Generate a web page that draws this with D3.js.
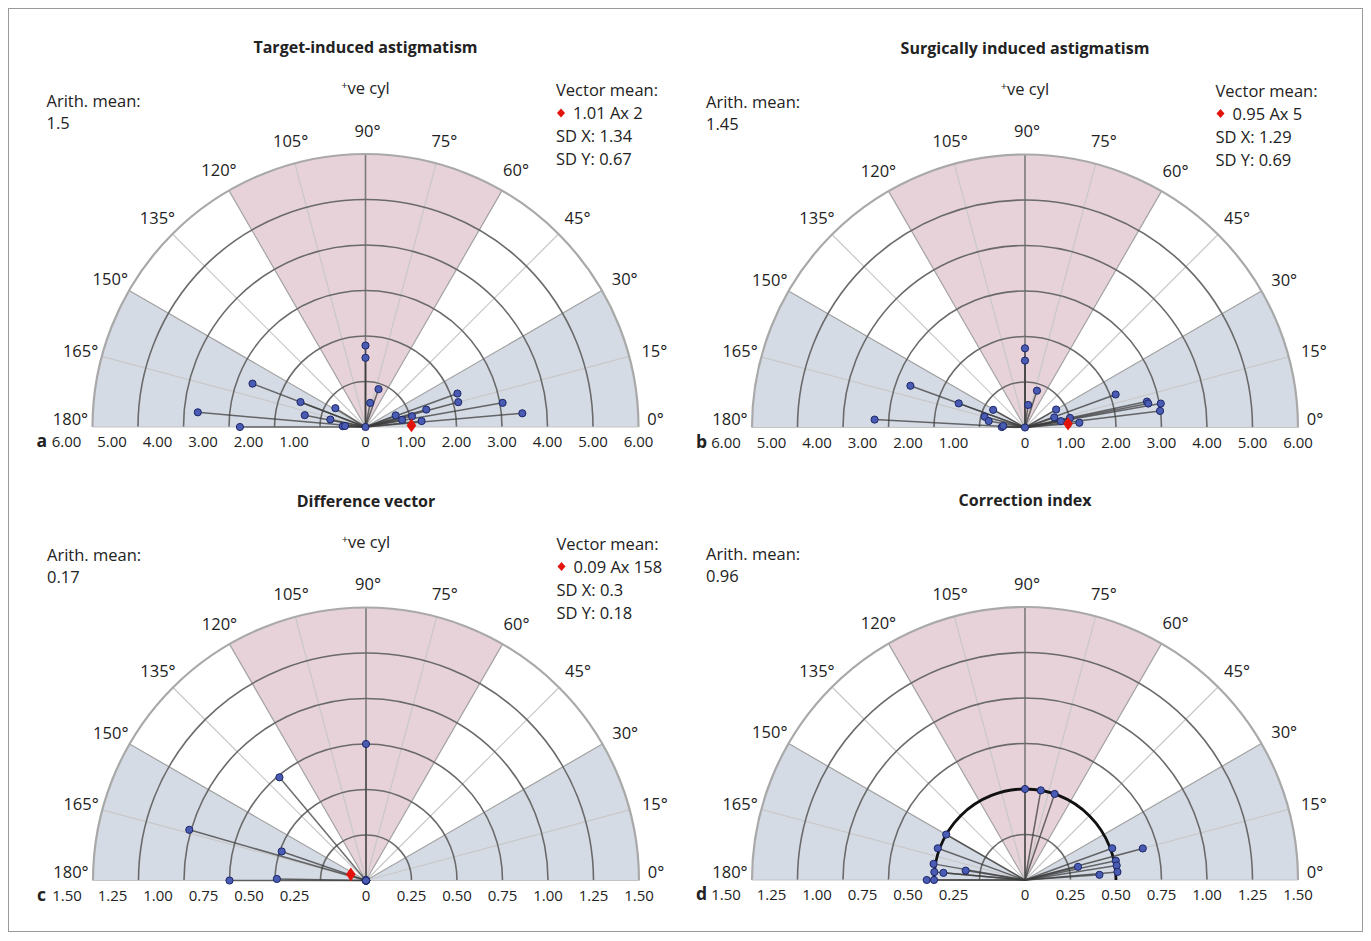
<!DOCTYPE html>
<html>
<head>
<meta charset="utf-8">
<script src="https://cdn.jsdelivr.net/npm/d3@7"></script>
<style>
  body { margin: 0; background: #fff; }
  text { font-family: "Open Sans", "Noto Sans", sans-serif; fill: #222; }
</style>
</head>
<body>
<svg id="chart" width="1371" height="941"></svg>
<script>
// ---- panel text ----
const titles = ["Target-induced astigmatism", "Surgically induced astigmatism", "Difference vector", "Correction index"];
const letters = ["a", "b", "c", "d"];
const arithMeans = ["1.5", "1.45", "0.17", "0.96"];
const vectorMeanLabels = ["1.01 Ax 2", "0.95 Ax 5", "0.09 Ax 158", null];
const sdXLabels = ["1.34", "1.29", "0.3", null];
const sdYLabels = ["0.67", "0.69", "0.18", null];
const vectorMeanMag = [1.01, 0.95, 0.09, null];
const vectorMeanAxis = [2, 5, 158, null];

// ---- scales / ticks ----
const angleTicks = [0, 15, 30, 45, 60, 75, 90, 105, 120, 135, 150, 165, 180];
const astigTicks = [0, 1, 2, 3, 4, 5, 6];
const astigTickLabels = ["0", "1.00", "2.00", "3.00", "4.00", "5.00", "6.00"];
const smallTicks = [0, 0.25, 0.5, 0.75, 1.0, 1.25, 1.5];
const smallTickLabels = ["0", "0.25", "0.50", "0.75", "1.00", "1.25", "1.50"];

// ---- eye data: magnitude (D) and axis (degrees) ----
const tiaMag  = [1.79, 1.52, 0.88, 0.54, 2.66, 1.53, 3.70, 0.78, 1.36, 0.79, 2.76, 0.50, 0.45, 0, 2.15, 2.11, 3.06, 3.46, 1.39, 0.71, 1.05, 0.82, 1.24];
const tiaAxis = [90, 90, 71, 79, 159, 159, 175, 148, 169, 168, 180, 178, 177, 0, 20, 15, 10, 5, 16, 21, 13, 11, 6];

const siaMag  = [1.74, 1.47, 0.85, 0.50, 2.68, 1.55, 3.31, 0.80, 0.92, 0.81, 0.51, 0.48, 0, 2.12, 2.74, 2.76, 3.03, 2.99, 0.79, 0.68, 0.80, 1.01, 1.20];
const siaAxis = [90, 90, 72, 82, 160, 160, 177, 151, 165, 170, 179, 176, 0, 20, 12, 11, 10, 7, 30, 19, 10, 12, 5];

const dvMag  = [0.75, 0.74, 1.01, 0.49, 0.75, 0.49, 0, 0, 0, 0, 0, 0, 0, 0, 0, 0, 0, 0, 0, 0, 0, 0, 0];
const dvAxis = [90, 130, 164, 161, 180, 179, 0, 0, 0, 0, 0, 0, 0, 0, 0, 0, 0, 0, 0, 0, 0, 0, 0];

const ciMag  = [0.50, 0.50, 0.50, 0.50, 0.51, 0.51, 0.50, 0.45, 0.33, 0.54, 0.50, 0.51, 0.67, 0.51, 0.51, 0.51, 0.30, 0.41];
const ciAxis = [90, 80, 71, 150, 160, 170, 175, 175, 171, 180, 180, 20, 15, 12, 9, 5, 14, 4];
const ciReference = 0.5;

const panels = [
  { cx: 365.5, cy: 427,   mag: tiaMag, axis: tiaAxis, ticks: astigTicks, tickLabels: astigTickLabels, cyl: true },
  { cx: 1025,  cy: 427.5, mag: siaMag, axis: siaAxis, ticks: astigTicks, tickLabels: astigTickLabels, cyl: true },
  { cx: 366,   cy: 880.5, mag: dvMag,  axis: dvAxis,  ticks: smallTicks, tickLabels: smallTickLabels, cyl: true },
  { cx: 1025,  cy: 880,   mag: ciMag,  axis: ciAxis,  ticks: smallTicks, tickLabels: smallTickLabels, cyl: false }
];

const R = 273;
const FS = 16.5;
const TICK_FS = 15;
const svg = d3.select("#chart");

// outer frame
svg.append("rect").attr("x", 8.5).attr("y", 8.5).attr("width", 1354).attr("height", 923)
  .attr("fill", "none").attr("stroke", "#9a9a9a").attr("stroke-width", 1);

// polar angle (deg, ccw from +x) -> d3.arc angle (clockwise from 12 o'clock)
const arcAngle = d3.scaleLinear().domain([0, 180]).range([Math.PI / 2, -Math.PI / 2]);

function diamondPath(hw, hh) {
  return `M0,${-hh}L${hw},0L0,${hh}L${-hw},0Z`;
}

panels.forEach((p, i) => {
  const maxV = p.ticks[p.ticks.length - 1];
  const r = d3.scaleLinear().domain([0, maxV]).range([0, R]);
  const g = svg.append("g").attr("transform", `translate(${p.cx},${p.cy})`);
  const toXY = (m, a) => {
    const t = a * Math.PI / 180;
    return [r(m) * Math.cos(t), -r(m) * Math.sin(t)];
  };

  // sector shading
  const sectors = [
    { from: 0, to: 30, fill: "#d5dbe5" },
    { from: 30, to: 60, fill: "#ffffff" },
    { from: 60, to: 120, fill: "#e8d2da" },
    { from: 120, to: 150, fill: "#ffffff" },
    { from: 150, to: 180, fill: "#d5dbe5" }
  ];
  const arc = d3.arc().innerRadius(0).outerRadius(R);
  g.selectAll("path.sector").data(sectors).join("path")
    .attr("class", "sector")
    .attr("d", d => arc({ startAngle: arcAngle(d.to), endAngle: arcAngle(d.from) }))
    .attr("fill", d => d.fill);

  // radial spokes
  g.selectAll("line.spoke").data(angleTicks.filter(a => a > 0 && a < 180)).join("line")
    .attr("class", "spoke")
    .attr("x1", 0).attr("y1", 0)
    .attr("x2", a => toXY(maxV, a)[0]).attr("y2", a => toXY(maxV, a)[1])
    .attr("stroke", a => a === 90 ? "#7a7a7a" : (a % 30 === 0 ? "#a2a2a2" : "#c8c8c8"))
    .attr("stroke-width", a => a === 90 ? 1.6 : 1.2);

  // rings
  const ringArc = d3.arc();
  g.selectAll("path.ring").data(p.ticks.filter(v => v > 0 && v < maxV)).join("path")
    .attr("class", "ring")
    .attr("d", v => ringArc({ innerRadius: r(v), outerRadius: r(v), startAngle: -Math.PI / 2, endAngle: Math.PI / 2 }))
    .attr("fill", "none").attr("stroke", "#6a6a6a").attr("stroke-width", 1.6);

  // outer edge and baseline
  g.append("path")
    .attr("d", ringArc({ innerRadius: R, outerRadius: R, startAngle: -Math.PI / 2, endAngle: Math.PI / 2 }))
    .attr("fill", "none").attr("stroke", "#a9a9a9").attr("stroke-width", 2.2);
  g.append("line").attr("x1", -R).attr("x2", R).attr("y1", 0).attr("y2", 0)
    .attr("stroke", "#c4c4c4").attr("stroke-width", 1.2);

  // correction index reference arc
  if (i === 3) {
    g.append("path")
      .attr("d", ringArc({ innerRadius: r(ciReference), outerRadius: r(ciReference), startAngle: -Math.PI / 2, endAngle: Math.PI / 2 }))
      .attr("fill", "none").attr("stroke", "#111").attr("stroke-width", 2.8);
  }

  // data vectors
  const pts = p.mag.map((m, k) => ({ m: m, a: p.axis[k] }));
  g.selectAll("line.vec").data(pts).join("line")
    .attr("class", "vec")
    .attr("x1", 0).attr("y1", 0)
    .attr("x2", d => toXY(d.m, d.a)[0]).attr("y2", d => toXY(d.m, d.a)[1])
    .attr("stroke", "#3c3c3c").attr("stroke-opacity", 0.75).attr("stroke-width", 1.5);
  g.selectAll("circle.pt").data(pts).join("circle")
    .attr("class", "pt")
    .attr("cx", d => toXY(d.m, d.a)[0]).attr("cy", d => toXY(d.m, d.a)[1])
    .attr("r", 3.6)
    .attr("fill", "#4a5bb4").attr("stroke", "#1c2766").attr("stroke-width", 1);

  // vector mean marker
  if (vectorMeanMag[i] !== null) {
    const [mx, my] = toXY(vectorMeanMag[i], vectorMeanAxis[i]);
    g.append("path").attr("d", diamondPath(4.8, 6.8))
      .attr("transform", `translate(${mx},${my})`).attr("fill", "#e3120b");
  }

  // angle labels
  g.selectAll("text.ang").data(angleTicks).join("text")
    .attr("class", "ang")
    .attr("x", a => {
      if (a === 0) return 290;
      if (a === 180) return -295;
      return 297 * Math.cos(a * Math.PI / 180) + 2;
    })
    .attr("y", a => (a === 0 || a === 180) ? -9 : -297 * Math.sin(a * Math.PI / 180))
    .attr("text-anchor", "middle").attr("dominant-baseline", "central")
    .attr("font-size", FS).text(a => a + "°");

  // radial value labels along the baseline
  const labelY = 20;
  p.ticks.forEach((v, k) => {
    if (v === 0) {
      g.append("text").attr("x", 0).attr("y", labelY).attr("text-anchor", "middle")
        .attr("font-size", TICK_FS).text(p.tickLabels[k]);
    } else {
      g.append("text").attr("x", r(v)).attr("y", labelY).attr("text-anchor", "middle")
        .attr("font-size", TICK_FS).text(p.tickLabels[k]);
      g.append("text").attr("x", -r(v) - 26).attr("y", labelY).attr("text-anchor", "middle")
        .attr("font-size", TICK_FS).text(p.tickLabels[k]);
    }
  });
  g.append("text").attr("x", -329).attr("y", labelY).attr("font-size", 17.5).attr("font-weight", "bold")
    .attr("text-anchor", "start").text(letters[i]);

  // title
  g.append("text").attr("x", 0).attr("y", -374).attr("text-anchor", "middle")
    .attr("font-size", 16).attr("font-weight", "bold").text(titles[i]);

  // arithmetic mean
  g.append("text").attr("x", -319).attr("y", -320).attr("font-size", FS).text("Arith. mean:");
  g.append("text").attr("x", -319).attr("y", -298).attr("font-size", FS).text(arithMeans[i]);

  // positive cylinder note
  if (p.cyl) {
    const t = g.append("text").attr("x", 0).attr("y", -333).attr("text-anchor", "middle").attr("font-size", FS);
    t.append("tspan").attr("font-size", 11).attr("dy", -5).text("+");
    t.append("tspan").attr("dy", 5).text("ve cyl");
  }

  // vector mean block
  if (vectorMeanLabels[i] !== null) {
    const vx = 190.5;
    g.append("text").attr("x", vx).attr("y", -331).attr("font-size", FS).text("Vector mean:");
    g.append("path").attr("d", diamondPath(4, 4.5))
      .attr("transform", `translate(${vx + 5},${-314})`).attr("fill", "#e3120b");
    g.append("text").attr("x", vx + 17).attr("y", -308).attr("font-size", FS).text(vectorMeanLabels[i]);
    g.append("text").attr("x", vx).attr("y", -285).attr("font-size", FS).text("SD X: " + sdXLabels[i]);
    g.append("text").attr("x", vx).attr("y", -262).attr("font-size", FS).text("SD Y: " + sdYLabels[i]);
  }
});
</script>
</body>
</html>
